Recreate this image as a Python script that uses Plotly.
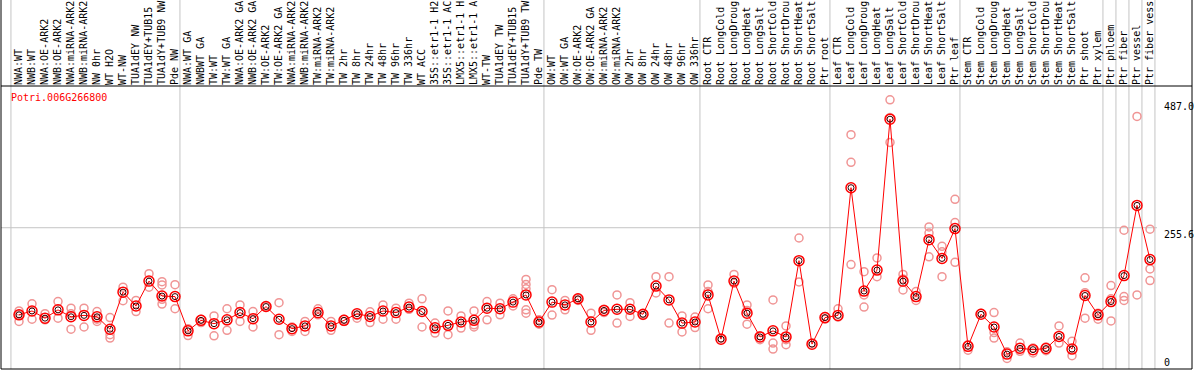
import plotly.graph_objects as go

gene = "Potri.006G266800"

labels = [
    "NWA:WT", "NWB:WT", "NWA:OE-ARK2", "NWB:OE-ARK2", "NWA:miRNA-ARK2", "NWB:miRNA-ARK2",
    "NW 0hr", "WT H2O", "WT-NW", "TUA1dEY NW", "TUA1dEY+TUB15", "TUA1dY+TUB9 NW", "Pde NW",
    "NWA:WT GA", "NWBWT GA", "TW:WT", "TW:WT GA", "NWA:OE-ARK2 GA", "NWB:OE-ARK2 GA",
    "TW:OE-ARK2", "TW:OE-ARK2 GA", "NWA:miRNA-ARK2", "NWB:miRNA-ARK2", "TW:miRNA-ARK2",
    "TW:miRNA-ARK2", "TW 2hr", "TW 8hr", "TW 24hr", "TW 48hr", "TW 96hr", "TW 336hr",
    "WT ACC", "35S::etr1-1 H2", "35S::etr1-1 AC", "LMX5::etr1-1 H", "LMX5::etr1-1 A",
    "WT-TW", "TUA1dEY TW", "TUA1dEY+TUB15", "TUA1dY+TUB9 TW", "Pde TW",
    "OW:WT", "OW:WT GA", "OW:OE-ARK2", "OW:OE-ARK2 GA", "OW:miRNA-ARK2", "OW:miRNA-ARK2",
    "OW 2hr", "OW 8hr", "OW 24hr", "OW 48hr", "OW 96hr", "OW 336hr",
    "Root CTR", "Root LongCold", "Root LongDroug", "Root LongHeat", "Root LongSalt",
    "Root ShortCold", "Root ShortDrou", "Root ShortHeat", "Root ShortSalt", "Ptr root",
    "Leaf CTR", "Leaf LongCold", "Leaf LongDroug", "Leaf LongHeat", "Leaf LongSalt",
    "Leaf ShortCold", "Leaf ShortDrou", "Leaf ShortHeat", "Leaf ShortSalt", "Ptr leaf",
    "Stem CTR", "Stem LongCold", "Stem LongDroug", "Stem LongHeat", "Stem LongSalt",
    "Stem ShortCold", "Stem ShortDrou", "Stem ShortHeat", "Stem ShortSalt", "Ptr shoot",
    "Ptr xylem", "Ptr phloem", "Ptr fiber", "Ptr vessel", "Ptr fiber vess",
]

means = [
    98, 105, 92, 107, 94.5, 97, 94.5, 72, 139, 114, 159, 132, 131,
    69, 88, 82, 89, 102, 91, 113, 90, 73, 78, 102, 78, 88, 100, 95, 105, 102,
    112, 104, 74.5, 79, 85, 88, 110, 109, 121, 134, 85,
    121, 116, 127, 85, 106, 108, 108, 99, 150, 125, 83, 85,
    134, 54, 159, 101, 58, 69, 58, 196, 45, 93,
    97, 328, 141, 179, 452, 159, 131, 234, 200, 254,
    41, 99, 76, 27, 37.5, 35, 37, 59, 36, 133, 98,
    122, 169, 296, 198,
]

replicates = [
    [105, 86, 98], [118, 90], [100, 89], [122, 92], [110, 72, 100], [110, 76],
    [104, 86, 90], [93, 62, 56], [148, 123.5], [124, 104], [172.5, 148], [158, 152, 117.5, 126],
    [152.6, 109],
    [73, 60.5], [90, 84], [96, 60], [109, 70], [116, 86], [104, 76], [113],
    [120, 62], [76, 68], [86, 68], [109, 98], [86, 70], [90, 86], [97, 92], [103.5, 84],
    [116, 90], [110, 90],
    [119, 108], [127, 76], [83, 65], [105, 62], [96, 74], [105, 76, 80], [122, 89],
    [119, 98], [127, 114], [162, 153, 145, 107, 101], [89, 81],
    [143.5, 97.5], [124, 107], [128, 124], [101, 70], [108, 102], [134, 83], [120, 95],
    [100, 97], [167, 137.5], [167, 83], [96, 67], [94, 75],
    [152, 109, 140], [56], [171, 155], [116, 81, 106], [60, 53], [125, 47, 36], [78, 53, 44],
    [237, 157.5], [47], [90, 95],
    [109, 94], [424, 374, 189], [176, 134, 112], [201, 167], [487, 410, 455],
    [171, 163, 143], [140, 124], [257, 246, 203], [222, 212, 167], [307, 265, 193],
    [44, 34], [101],
    [102, 66, 56], [31, 19], [47, 32], [38, 29], [40, 33], [78, 47], [50, 24],
    [165, 138, 92], [90, 101], [151, 127, 87], [251, 131, 124], [457, 134],
    [253, 181, 160],
]

group_starts = [0, 13, 41, 53, 63, 73, 84, 85, 86, 87, 88]

grid_value = 255.6
tick_texts = ["487.0", "255.6", "0"]
tick_values = [487.0, 255.6, 0]

n = len(labels)
xs = list(range(n))

rep_x, rep_y = [], []
for i, reps in enumerate(replicates):
    for v in reps:
        rep_x.append(i)
        rep_y.append(v)

FONT = "DejaVu Sans Mono"
TOP = 86.0
PLOT_H = 283.0
PLOT_W = 1191.0
YR = [0, 512]
XR = [-1.385, 90.23]
header_top = 1 + TOP / PLOT_H

fig = go.Figure()
fig.add_trace(go.Scatter(
    x=rep_x, y=rep_y, mode="markers",
    marker=dict(symbol="circle-open", size=8, color="#f09595", line=dict(width=1.5, color="#f09595")),
    hoverinfo="skip", showlegend=False,
))
fig.add_trace(go.Scatter(
    x=xs, y=means, mode="lines",
    line=dict(color="#ff0000", width=1),
    hoverinfo="skip", showlegend=False,
))
fig.add_trace(go.Scatter(
    x=xs, y=means, mode="markers",
    marker=dict(symbol="circle-open", size=6, color="#300000", line=dict(width=1, color="#300000")),
    hoverinfo="skip", showlegend=False,
))
fig.add_trace(go.Scatter(
    x=xs, y=means, mode="markers",
    marker=dict(symbol="circle-open", size=10, color="#ff0000", line=dict(width=1.5, color="#ff0000")),
    showlegend=False,
))

shapes = []
shapes.append(dict(type="line", xref="x", yref="y", x0=XR[0], x1=87.54, y0=grid_value, y1=grid_value,
                   line=dict(color="#c4c4c4", width=1), layer="below"))
for k in group_starts:
    shapes.append(dict(type="line", xref="x", yref="paper", x0=k - 0.62, x1=k - 0.62, y0=0, y1=header_top,
                       line=dict(color="#c4c4c4", width=1), layer="below"))
shapes.append(dict(type="line", xref="paper", yref="paper", x0=0, x1=0, y0=0, y1=header_top,
                   line=dict(color="black", width=1)))
shapes.append(dict(type="line", xref="paper", yref="paper", x0=1, x1=1, y0=0, y1=header_top,
                   line=dict(color="black", width=1)))
shapes.append(dict(type="line", xref="paper", yref="paper", x0=0, x1=1, y0=0, y1=0,
                   line=dict(color="black", width=1)))
shapes.append(dict(type="line", xref="paper", yref="paper", x0=0, x1=1, y0=1, y1=1,
                   line=dict(color="black", width=1)))

annotations = [
    dict(text=gene, xref="paper", yref="paper", x=8.3 / PLOT_W, y=(369 - 97.3) / PLOT_H,
         xanchor="left", yanchor="middle", showarrow=False, font=dict(family=FONT, size=10, color="red")),
]
for txt, val in zip(tick_texts, tick_values):
    if val == 0:
        annotations.append(dict(text=txt, xref="paper", yref="y", x=(1162 - 1) / PLOT_W, y=val,
                                xanchor="left", yanchor="bottom", yshift=-1, showarrow=False,
                                font=dict(family=FONT, size=10, color="black")))
    else:
        annotations.append(dict(text=txt, xref="paper", yref="y", x=(1162 - 1) / PLOT_W, y=val,
                                xanchor="left", yanchor="top", yshift=1, showarrow=False,
                                font=dict(family=FONT, size=10, color="black")))

fig.update_layout(
    width=1194, height=370,
    margin=dict(l=1, r=2, t=int(TOP), b=1, pad=0),
    paper_bgcolor="white", plot_bgcolor="white",
    xaxis=dict(range=XR, side="top", tickmode="array", tickvals=xs, ticktext=labels,
               tickangle=-90, tickfont=dict(family=FONT, size=10, color="black"),
               showgrid=False, zeroline=False, ticks="", showline=False, fixedrange=True),
    yaxis=dict(range=YR, showticklabels=False, showgrid=False, zeroline=False, ticks="",
               showline=False, fixedrange=True),
    shapes=shapes, annotations=annotations,
)

fig.write_html(
    "out.html",
    config={"displayModeBar": False},
    post_script="document.body.style.margin='0';document.body.style.overflow='hidden';",
)
